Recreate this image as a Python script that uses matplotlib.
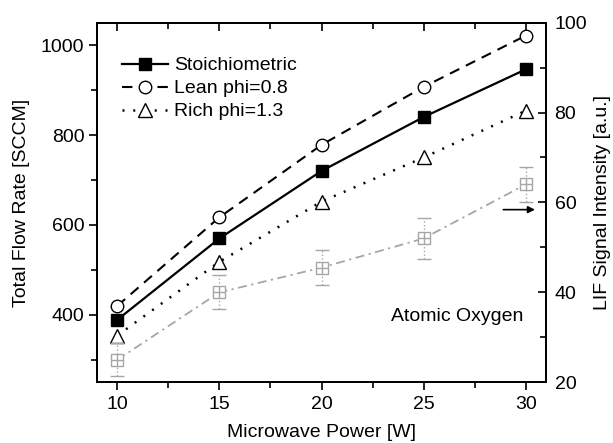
import matplotlib
matplotlib.use("Agg")
import matplotlib.pyplot as plt
from matplotlib.ticker import MultipleLocator

plt.rcParams['font.family'] = ['Liberation Sans', 'DejaVu Sans']
plt.rcParams['font.size'] = 14

# data
power = [10, 15, 20, 25, 30]
stoich = [389, 570, 720, 840, 946]
lean = [420, 617, 778, 907, 1021]
rich = [354, 518, 652, 750, 854]
lif = [25.0, 40.0, 45.5, 52.0, 64.0]
lif_err = [3.7, 3.8, 3.9, 4.5, 3.9]

gray = '#a6a6a6'

fig = plt.figure(figsize=(6.13, 4.43), dpi=100)
ax = fig.add_axes([0.158, 0.137, 0.733, 0.812])
ax2 = ax.twinx()

ax.plot(power, stoich, '-', color='black', lw=1.6, marker='s', ms=9,
        mfc='black', mec='black', label='Stoichiometric')
ax.plot(power, lean, color='black', lw=1.5, dashes=(5, 3.5), marker='o', ms=9,
        mfc='white', mec='black', mew=1.0, label='Lean phi=0.8')
ax.plot(power, rich, color='black', lw=1.8, dashes=(0.8, 3.5), marker='^', ms=10,
        mfc='white', mec='black', mew=1.0, label='Rich phi=1.3')

# LIF signal on the right axis
eb = ax2.errorbar(power, lif, yerr=lif_err, fmt='none', ecolor=gray, elinewidth=1.0,
                  capsize=5, capthick=1.0)
eb[2][0].set_linestyle(':')
ax2.plot(power, lif, color=gray, lw=1.3, dashes=(5, 2.5, 1.2, 2.5))
ax2.plot(power, lif, ls='none', marker='s', ms=9, mfc='white', mec=gray, mew=1.0)
ax2.plot(power, lif, ls='none', marker='+', ms=9, mec=gray, mew=1.0)

ax2.annotate('', xy=(30.45, 58.4), xytext=(28.9, 58.4),
             arrowprops=dict(arrowstyle='-|>', color='black', lw=1.2,
                             mutation_scale=10, shrinkA=0, shrinkB=0))

ax.text(29.9, 397, 'Atomic Oxygen', ha='right', va='center', fontsize=14)

ax.set_xlim(9, 31)
ax.set_ylim(250, 1050)
ax2.set_ylim(20, 100)

ax.xaxis.set_major_locator(MultipleLocator(5))
ax.xaxis.set_minor_locator(MultipleLocator(2.5))
ax.yaxis.set_major_locator(MultipleLocator(200))
ax.yaxis.set_minor_locator(MultipleLocator(100))
ax.set_yticks([400, 600, 800, 1000])
ax2.yaxis.set_major_locator(MultipleLocator(20))
ax2.yaxis.set_minor_locator(MultipleLocator(10))

ax.tick_params(axis='x', which='major', direction='out', length=6, width=1.2, pad=4)
ax.tick_params(axis='x', which='minor', direction='out', length=4, width=1.2)
ax.tick_params(axis='y', which='major', direction='out', length=6, width=1.2, pad=3)
ax.tick_params(axis='y', which='minor', direction='out', length=4, width=1.2)
ax2.tick_params(axis='y', which='major', direction='in', length=6, width=1.2, pad=6)
ax2.tick_params(axis='y', which='minor', direction='in', length=4, width=1.2)

# top ticks point inward
top = ax.secondary_xaxis('top')
top.xaxis.set_major_locator(MultipleLocator(5))
top.xaxis.set_minor_locator(MultipleLocator(2.5))
top.tick_params(which='major', direction='in', length=6, width=1.2, labeltop=False)
top.tick_params(which='minor', direction='in', length=4, width=1.2)

for a in (ax, ax2, top):
    for sp in a.spines.values():
        sp.set_linewidth(1.3)

ax.set_xlabel('Microwave Power [W]', fontsize=14, labelpad=8)
ax.set_ylabel('Total Flow Rate [SCCM]', fontsize=14, labelpad=8)
ax2.set_ylabel('LIF Signal Intensity [a.u.]', fontsize=14, labelpad=5)

ax.legend(loc='upper left', bbox_to_anchor=(0.055, 0.905), frameon=False,
          borderpad=0, borderaxespad=0, handlelength=2.4, handletextpad=0.3,
          labelspacing=0.28, fontsize=14)

fig.savefig('out.png', dpi=100)
